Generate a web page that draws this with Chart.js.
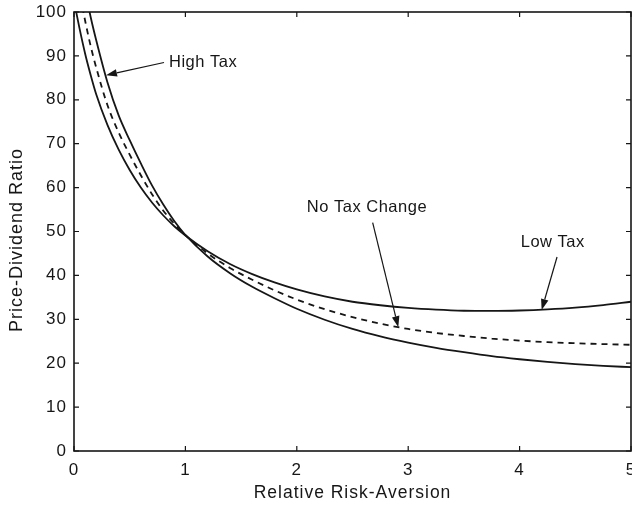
<!DOCTYPE html>
<html>
<head>
<meta charset="utf-8">
<script src="https://cdn.jsdelivr.net/npm/chart.js@4.4.1/dist/chart.umd.min.js"></script>
<style>
  html, body { margin: 0; padding: 0; background: #fff; }
  #wrap { width: 632px; height: 506px; position: relative; }
</style>
</head>
<body>
<div id="wrap"><canvas id="c" width="632" height="506"></canvas></div>
<script>
// ---- data ----
const riskAversion = [0, 0.05, 0.1, 0.15, 0.2, 0.3, 0.4, 0.5, 0.6, 0.7, 0.8, 0.9, 1.0, 1.2, 1.4, 1.6, 1.8, 2.0, 2.25, 2.5, 2.75, 3.0, 3.25, 3.5, 3.75, 4.0, 4.25, 4.5, 4.75, 5.0];
const lowTax  = [102.5, 96.2, 90.5, 85.6, 81.2, 74.3, 68.7, 64.0, 60.0, 56.6, 53.7, 51.2, 49.1, 45.5, 42.6, 40.3, 38.4, 36.8, 35.2, 34.0, 33.2, 32.6, 32.2, 31.95, 31.9, 32.0, 32.25, 32.65, 33.25, 34.0];
const noTax   = [111, 104.5, 98.0, 92.2, 87.3, 78.8, 72.6, 67.5, 62.8, 58.5, 54.8, 51.8, 49.2, 45.0, 41.7, 39.0, 36.6, 34.5, 32.3, 30.5, 29.0, 27.8, 26.9, 26.2, 25.6, 25.15, 24.8, 24.55, 24.35, 24.2];
const highTax = [118, 111.5, 105, 98.8, 93.5, 84, 76.5, 70.8, 65.5, 60.5, 56.2, 52.4, 49.2, 44.3, 40.5, 37.4, 34.8, 32.4, 29.9, 27.8, 26.1, 24.7, 23.5, 22.5, 21.6, 20.9, 20.3, 19.8, 19.4, 19.1];
const xTicks = [0, 1, 2, 3, 4, 5];
const yTicks = [0, 10, 20, 30, 40, 50, 60, 70, 80, 90, 100];
const seriesNames = ['Low Tax', 'No Tax Change', 'High Tax'];
const xTitle = 'Relative Risk-Aversion';
const yTitle = 'Price-Dividend Ratio';

// annotation labels (data coordinates): text anchor, arrow start, arrow tip
const notes = [
  { text: 'High Tax',      tx: 0.853, ty: 88.4, ax: 0.808, ay: 88.5, bx: 0.287, by: 85.6 },
  { text: 'No Tax Change', tx: 2.09,  ty: 55.4, ax: 2.681, ay: 52.0, bx: 2.911, by: 28.2 },
  { text: 'Low Tax',       tx: 4.01,  ty: 47.6, ax: 4.336, ay: 44.2, bx: 4.198, by: 32.1 }
];

const pts = arr => riskAversion.map((x, i) => ({ x: x, y: arr[i] }));
const FONT = 'Liberation Sans, Arial, Helvetica, sans-serif';
const INK = '#161616';

const spacingPlugin = {
  id: 'spacing',
  beforeLayout(chart) { chart.ctx.letterSpacing = '1px'; },
  beforeDraw(chart) { chart.ctx.letterSpacing = '1px'; }
};

const framePlugin = {
  id: 'frame',
  afterDatasetsDraw(chart) {
    const ctx = chart.ctx;
    const a = chart.chartArea;
    const xs = chart.scales.x, ys = chart.scales.y;
    ctx.save();
    ctx.strokeStyle = INK;
    ctx.lineWidth = 1.6;
    ctx.strokeRect(a.left, a.top, a.right - a.left, a.bottom - a.top);
    ctx.lineWidth = 1.2;
    const tl = 5;
    ctx.beginPath();
    xTicks.forEach(v => {
      const px = xs.getPixelForValue(v);
      ctx.moveTo(px, a.bottom); ctx.lineTo(px, a.bottom - tl);
      ctx.moveTo(px, a.top); ctx.lineTo(px, a.top + tl);
    });
    yTicks.forEach(v => {
      const py = ys.getPixelForValue(v);
      ctx.moveTo(a.left, py); ctx.lineTo(a.left + tl, py);
      ctx.moveTo(a.right, py); ctx.lineTo(a.right - tl, py);
    });
    ctx.stroke();

    // y axis title
    ctx.fillStyle = INK;
    ctx.letterSpacing = '1px';
    ctx.font = '18px ' + FONT;
    ctx.textAlign = 'center';
    ctx.textBaseline = 'middle';
    ctx.save();
    ctx.translate(17, 240);
    ctx.rotate(-Math.PI / 2);
    ctx.fillText(yTitle, 0, 0);
    ctx.restore();

    // annotations
    ctx.letterSpacing = '0.5px';
    ctx.font = '16.5px ' + FONT;
    ctx.textAlign = 'left';
    ctx.textBaseline = 'middle';
    notes.forEach(n => {
      ctx.fillText(n.text, xs.getPixelForValue(n.tx), ys.getPixelForValue(n.ty));
      const x0 = xs.getPixelForValue(n.ax), y0 = ys.getPixelForValue(n.ay);
      const x1 = xs.getPixelForValue(n.bx), y1 = ys.getPixelForValue(n.by);
      const ang = Math.atan2(y1 - y0, x1 - x0);
      const hl = 11, hw = 3.8;
      const bxp = x1 - hl * Math.cos(ang), byp = y1 - hl * Math.sin(ang);
      ctx.lineWidth = 1.2;
      ctx.beginPath();
      ctx.moveTo(x0, y0); ctx.lineTo(bxp, byp);
      ctx.stroke();
      ctx.beginPath();
      ctx.moveTo(x1, y1);
      ctx.lineTo(bxp + hw * Math.sin(ang), byp - hw * Math.cos(ang));
      ctx.lineTo(bxp - hw * Math.sin(ang), byp + hw * Math.cos(ang));
      ctx.closePath();
      ctx.fill();
    });
    ctx.restore();
  }
};

new Chart(document.getElementById('c'), {
  type: 'line',
  data: {
    datasets: [
      { label: seriesNames[0], data: pts(lowTax),  borderColor: INK, borderWidth: 1.8, pointRadius: 0, cubicInterpolationMode: 'monotone', fill: false },
      { label: seriesNames[1], data: pts(noTax),   borderColor: INK, borderWidth: 1.8, borderDash: [6, 5], pointRadius: 0, cubicInterpolationMode: 'monotone', fill: false },
      { label: seriesNames[2], data: pts(highTax), borderColor: INK, borderWidth: 1.8, pointRadius: 0, cubicInterpolationMode: 'monotone', fill: false }
    ]
  },
  options: {
    responsive: false,
    animation: false,
    devicePixelRatio: 1,
    layout: { padding: { top: 12, right: 1, left: 0, bottom: 0 } },
    plugins: { legend: { display: false }, tooltip: { enabled: false } },
    scales: {
      x: {
        type: 'linear', min: 0, max: 5,
        afterBuildTicks: s => { s.ticks = xTicks.map(v => ({ value: v })); },
        afterFit: s => { s.height = 55; s.paddingLeft = 0; s.paddingRight = 0; },
        grid: { display: false, drawTicks: false },
        border: { display: false },
        ticks: { color: INK, font: { family: FONT, size: 17 }, padding: 9, maxRotation: 0, autoSkip: false },
        title: { display: true, text: xTitle, color: INK, font: { family: FONT, size: 17.5 }, padding: { top: 0, bottom: 2.5 } }
      },
      y: {
        type: 'linear', min: 0, max: 100,
        afterBuildTicks: s => { s.ticks = yTicks.map(v => ({ value: v })); },
        afterFit: s => { s.width = 74; s.paddingTop = 0; s.paddingBottom = 0; },
        grid: { display: false, drawTicks: false },
        border: { display: false },
        ticks: { color: INK, font: { family: FONT, size: 17 }, padding: 7, autoSkip: false },
        title: { display: false }
      }
    }
  },
  plugins: [spacingPlugin, framePlugin]
});
</script>
</body>
</html>
